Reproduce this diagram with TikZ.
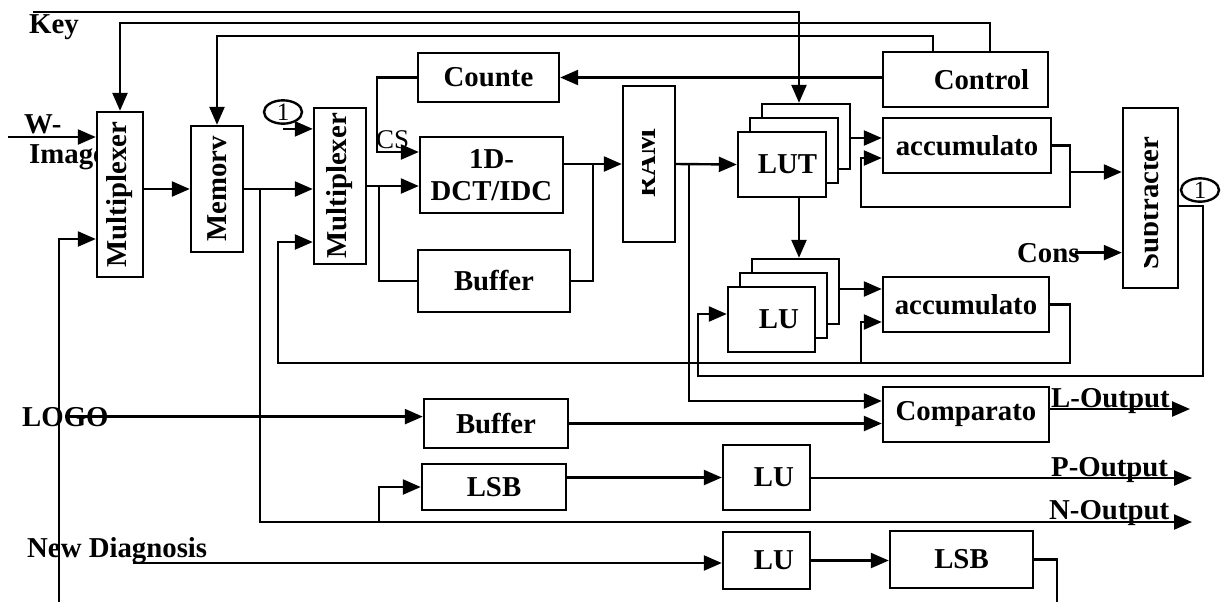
\documentclass[tikz,border=0pt]{standalone}
\usepackage{fontspec}
\setmainfont{Liberation Serif}
\usetikzlibrary{arrows.meta, calc, shapes.geometric}

\begin{document}
\begin{tikzpicture}[x=0.5pt, y=-0.5pt, line width=1.2pt,
    >={Triangle[length=9pt, width=7.5pt]},
    font=\bfseries\fontsize{14.4}{16}\selectfont,
    box/.style={draw, fill=white, inner sep=0pt},
    tag/.style={anchor=base west, inner sep=0pt},
    lighttext/.style={font=\mdseries\fontsize{13.5}{15}\selectfont},
    loop/.style={draw, ellipse, inner sep=0pt, minimum width=19pt, minimum height=11pt,
                 font=\mdseries\fontsize{12.5}{13}\selectfont}]
  \useasboundingbox (0, 0) rectangle (1223, 602);

  \node [tag] (key) at (28, 33) { Key };
  \node [tag] (wimg) at (23, 133) { W- };
  \node [tag] (img) at (28, 163) { Image };
  \node [tag] (logo) at (21, 426) { LOGO };
  \node [tag] (diag) at (26, 557) { New Diagnosis };
  \node [tag] (cons) at (1016, 262) { Cons };
  \node [tag] (ltxt) at (1050, 407) { L-Output };
  \node [tag] (ptxt) at (1050, 476) { P-Output };
  \node [tag] (ntxt) at (1048, 519) { N-Output };
  \node [tag, lighttext] (cs) at (375, 148) { CS };

  \node [box, minimum width=23pt, minimum height=82.5pt,
         label={[rotate=90]center:Multiplexer}] (mux1) at (120, 194.5) {};
  \node [box, minimum width=26pt, minimum height=63pt,
         label={[rotate=90]center:Memorv}] (mem) at (217, 189) {};
  \node [box, minimum width=26pt, minimum height=78pt,
         label={[rotate=90]center:Multiplexer}] (mux2) at (340, 186) {};
  \node [box, minimum width=70.5pt, minimum height=24.5pt] (cnt) at (488.5, 77.5) { Counte };
  \node [box, minimum width=71.5pt, minimum height=38pt, align=center] (dct) at (491.5, 175) { 1D-\\DCT/IDC };
  \node [box, minimum width=76pt, minimum height=31pt] (buf1) at (494, 281) { Buffer };
  \node [box, minimum width=26pt, minimum height=78pt] (ram) at (649, 164) {};
  \node [box, minimum width=44pt, minimum height=32.5pt] (lutC) at (806, 136.5) {};
  \node [box, minimum width=44pt, minimum height=32.5pt] (lutB) at (794, 150.5) {};
  \node [box, minimum width=44pt, minimum height=32.5pt] (lutA) at (782, 164.5) { \hspace*{5.5pt}LUT };
  \node [box, minimum width=82.5pt, minimum height=27.5pt] (ctrl) at (965.5, 79.5) { \hspace*{16pt}Control };
  \node [box, minimum width=84pt, minimum height=27.5pt] (acc1) at (967, 145.5) { accumulato };
  \node [box, minimum width=27.5pt, minimum height=90pt] (sub) at (1150.5, 198) {};
  \node [box, minimum width=43.5pt, minimum height=32.5pt] (luC) at (795.5, 291.5) {};
  \node [box, minimum width=43.5pt, minimum height=32.5pt] (luB) at (783.5, 305.5) {};
  \node [box, minimum width=43.5pt, minimum height=32.5pt] (luA) at (771.5, 319.5) { \hspace*{7.5pt}LU };
  \node [box, minimum width=83pt, minimum height=27.5pt] (acc2) at (966, 304.5) { accumulato };
  \node [box, minimum width=72pt, minimum height=24.5pt] (buf2) at (496, 423.5) { Buffer };
  \node [box, minimum width=83pt, minimum height=27.5pt] (cmp) at (966, 414.5) { Comparato };
  \node [box, minimum width=72pt, minimum height=23pt] (lsbp) at (494, 487) { LSB };
  \node [box, minimum width=43.5pt, minimum height=32.5pt] (lup) at (766.5, 477.5) { \hspace*{7.5pt}LU };
  \node [box, minimum width=43.5pt, minimum height=28.5pt] (lud) at (766.5, 560.5) { \hspace*{7.5pt}LU };
  \node [box, minimum width=71.5pt, minimum height=28.5pt] (lsbd) at (961.5, 559.5) { LSB };

  \begin{scope}
    \clip (642, 86) rectangle (675, 242);
    \node [rotate=90, anchor=base, inner sep=0pt] (ramtxt) at (655, 163) { RAM };
  \end{scope}
  \begin{scope}
    \clip (1144, 108) rectangle (1178, 288);
    \node [rotate=90, anchor=base, inner sep=0pt] (subtxt) at (1158, 203) { Subtracter };
  \end{scope}

  \node [loop] (one1) at (283, 112) { 1 };
  \node [loop] (one2) at (1200, 190) { 1 };

  \coordinate (win) at (8, 137);
  \coordinate (bin) at (59, 602);
  \coordinate (keyin) at (33, 12);
  \coordinate (lutcol) at (799, 0);
  \coordinate (one1in) at ($(one1.south)+(0, 4)$);
  \draw [->] (win) -- (win -| mux1.west);
  \draw [->] (bin) |- ($(mux1.west)+(0, 44.5)$);
  \draw [->] (mem.west -| mux1.east) -- (mem.west);
  \draw [->] (mem.east) -- (mem.east -| mux2.west);
  \draw [->] (one1in) -- (one1in -| mux2.west);

  \draw [->] (keyin) -| (lutC.north -| lutcol);
  \draw [->] ($(ctrl.north)+(24.5, 0)$) -- ++(0, -28) -| (mux1.north);
  \draw [->] ($(ctrl.north)+(-32.5, 0)$) -- ++(0, -15) -| (mem.north);
  \draw [->] (ctrl.west |- cnt.east) -- (cnt.east);
  \draw [->] (cnt.west) -- ++(-40, 0) |- ($(dct.west)+(0, -23)$);

  \coordinate (mux2split) at ($(mux2.east)+(12, 0)$);
  \coordinate (dctjoin) at ($(dct.east |- ram.west)!0.5!(ram.west)$);
  \coordinate (ramsplit) at ($(ram.east)+(13, 0)$);
  \draw [->] (mux2.east) -- (mux2.east -| dct.west);
  \draw (mux2split) |- (buf1.west);
  \draw [->] (dct.east |- ram.west) -- (ram.west);
  \draw (buf1.east) -| (dctjoin);
  \draw [->] (ram.east) -- (lutA.west);
  \draw [->] (ramsplit) |- ($(cmp.west)+(0, -13.5)$);

  \coordinate (acc1a) at ($(acc1.west)+(0, -7.5)$);
  \coordinate (acc1b) at ($(acc1.west)+(0, 12.5)$);
  \draw [->] (acc1a -| lutC.east) -- (acc1a);
  \draw [->] (acc1.east) -- ++(18, 0) -- ++(0, 61.5) -| ($(acc1b)+(-21, 0)$) -- (acc1b);
  \draw [->] (acc1.east) ++(18, 0) |- ($(sub.west)+(0, -26)$);

  \coordinate (acc2a) at ($(acc2.west)+(0, -15.5)$);
  \coordinate (acc2b) at ($(acc2.west)+(0, 17.5)$);
  \coordinate (acc2lp) at ($(acc2b)+(-21, 0)$);
  \coordinate (fb) at ($(acc2.east)+(20, 58.5)$);
  \draw [->] (lutA.south -| lutcol) -- (luC.north -| lutcol);
  \draw [->] (acc2a -| luC.east) -- (acc2a);
  \draw [->] (acc2.east) -- ++(20, 0) -- (fb) -| ($(mux2.west)+(-35, 56)$) -- ($(mux2.west)+(0, 56)$);
  \draw [->] (fb -| acc2lp) -- (acc2lp) -- (acc2b);

  \draw [->] ($(cons.east)+(-6, 0)$) -- (cons.east -| sub.west);
  \draw [->] ($(sub.east)+(0, 8)$) -- ++(24, 0) -- ++(0, 170) -| ($(luA.west)+(-29, -5.5)$) -- ($(luA.west)+(0, -5.5)$);

  \coordinate (lout) at (1190, 409);
  \coordinate (pout) at (1192, 478);
  \coordinate (nout) at (1192, 522);
  \coordinate (diagin) at (133, 563);
  \coordinate (lsbout) at (1057, 602);
  \draw [->] (logo.center) -- (logo.center -| buf2.west);
  \draw [->] (buf2.east) -- (buf2.east -| cmp.west);
  \draw [->] (cmp.east |- lout) -- (lout);
  \draw [->] (lup.west -| lsbp.east) -- (lup.west);
  \draw [->] (lup.east |- pout) -- (pout);
  \draw [->] (mem.east) ++(16, 0) |- (nout);
  \draw [->] (mux2split |- nout) |- (lsbp.west);
  \draw [->] (diagin) -- (diagin -| lud.west);
  \draw [->] (lud.east) -- (lud.east -| lsbd.west);
  \draw (lsbd.east) -| (lsbout);

\end{tikzpicture}
\end{document}
